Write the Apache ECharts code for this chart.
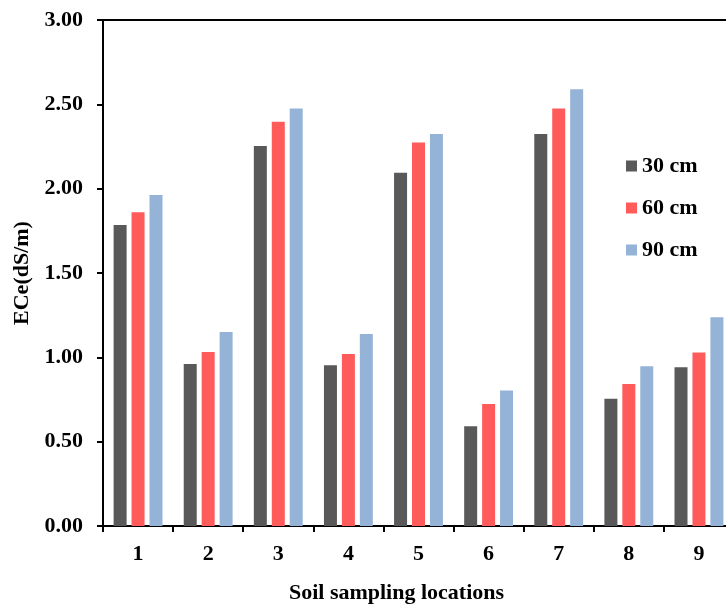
<!DOCTYPE html>
<html>
<head>
<meta charset="utf-8">
<script src="https://cdn.jsdelivr.net/npm/echarts@6/dist/echarts.min.js"></script>
<style>
html,body{margin:0;padding:0;background:#fff;}
#chart{width:726px;height:604px;}
</style>
</head>
<body>
<div id="chart"></div>
<script>
const categories = ['1','2','3','4','5','6','7','8','9'];
const seriesNames = ['30 cm','60 cm','90 cm'];
const values30 = [1.785, 0.96, 2.253, 0.953, 2.095, 0.591, 2.324, 0.755, 0.941];
const values60 = [1.86, 1.032, 2.397, 1.02, 2.273, 0.723, 2.476, 0.842, 1.028];
const values90 = [1.962, 1.15, 2.476, 1.138, 2.324, 0.804, 2.589, 0.947, 1.237];
const yTicks = [0, 0.5, 1, 1.5, 2, 2.5, 3];
const colors = ['#595959', '#FF5B5B', '#95B3D7'];

const font = 'Liberation Serif, Times New Roman, serif';
const fs = 22;
const chart = echarts.init(document.getElementById('chart'), null, {renderer: 'canvas'});
const seriesData = [values30, values60, values90];

chart.setOption({
  animation: false,
  backgroundColor: '#fff',
  grid: {left: 103, top: 20, bottom: 78, width: 631, containLabel: false, outerBoundsMode: 'none',
    show: true, borderColor: '#000', borderWidth: 2, backgroundColor: 'transparent'},
  legend: {
    orient: 'vertical', left: 626, top: 155, padding: 0,
    itemWidth: 11, itemHeight: 11, itemGap: 20,
    icon: 'rect',
    textStyle: {fontFamily: font, fontWeight: 'bold', fontSize: fs, color: '#000', lineHeight: 22},
    data: seriesNames
  },
  xAxis: {
    type: 'category', data: categories,
    axisLine: {lineStyle: {color: '#000', width: 2}},
    axisTick: {show: true, length: 6, lineStyle: {color: '#000', width: 2}},
    axisLabel: {fontFamily: font, fontWeight: 'bold', fontSize: fs, color: '#000', margin: 17},
    name: 'Soil sampling locations', nameLocation: 'middle', nameGap: 56,
    nameTextStyle: {fontFamily: font, fontWeight: 'bold', fontSize: fs, color: '#000', padding: [0, 44, 0, 0]}
  },
  yAxis: {
    type: 'value', min: yTicks[0], max: yTicks[yTicks.length-1], interval: yTicks[1]-yTicks[0],
    axisLine: {show: true, lineStyle: {color: '#000', width: 2}},
    axisTick: {show: true, length: 6, lineStyle: {color: '#000', width: 2}},
    splitLine: {show: false},
    axisLabel: {fontFamily: font, fontWeight: 'bold', fontSize: fs, color: '#000', margin: 20,
      formatter: v => v.toFixed(2)},
    name: 'ECe(dS/m)', nameLocation: 'middle', nameGap: 68, nameRotate: 90,
    nameTextStyle: {fontFamily: font, fontWeight: 'bold', fontSize: fs, color: '#000'}
  },
  series: seriesNames.map((n, i) => ({
    name: n, type: 'bar', data: seriesData[i],
    barWidth: 13, barGap: '38%',
    itemStyle: {color: colors[i]}
  }))
});
</script>
</body>
</html>
